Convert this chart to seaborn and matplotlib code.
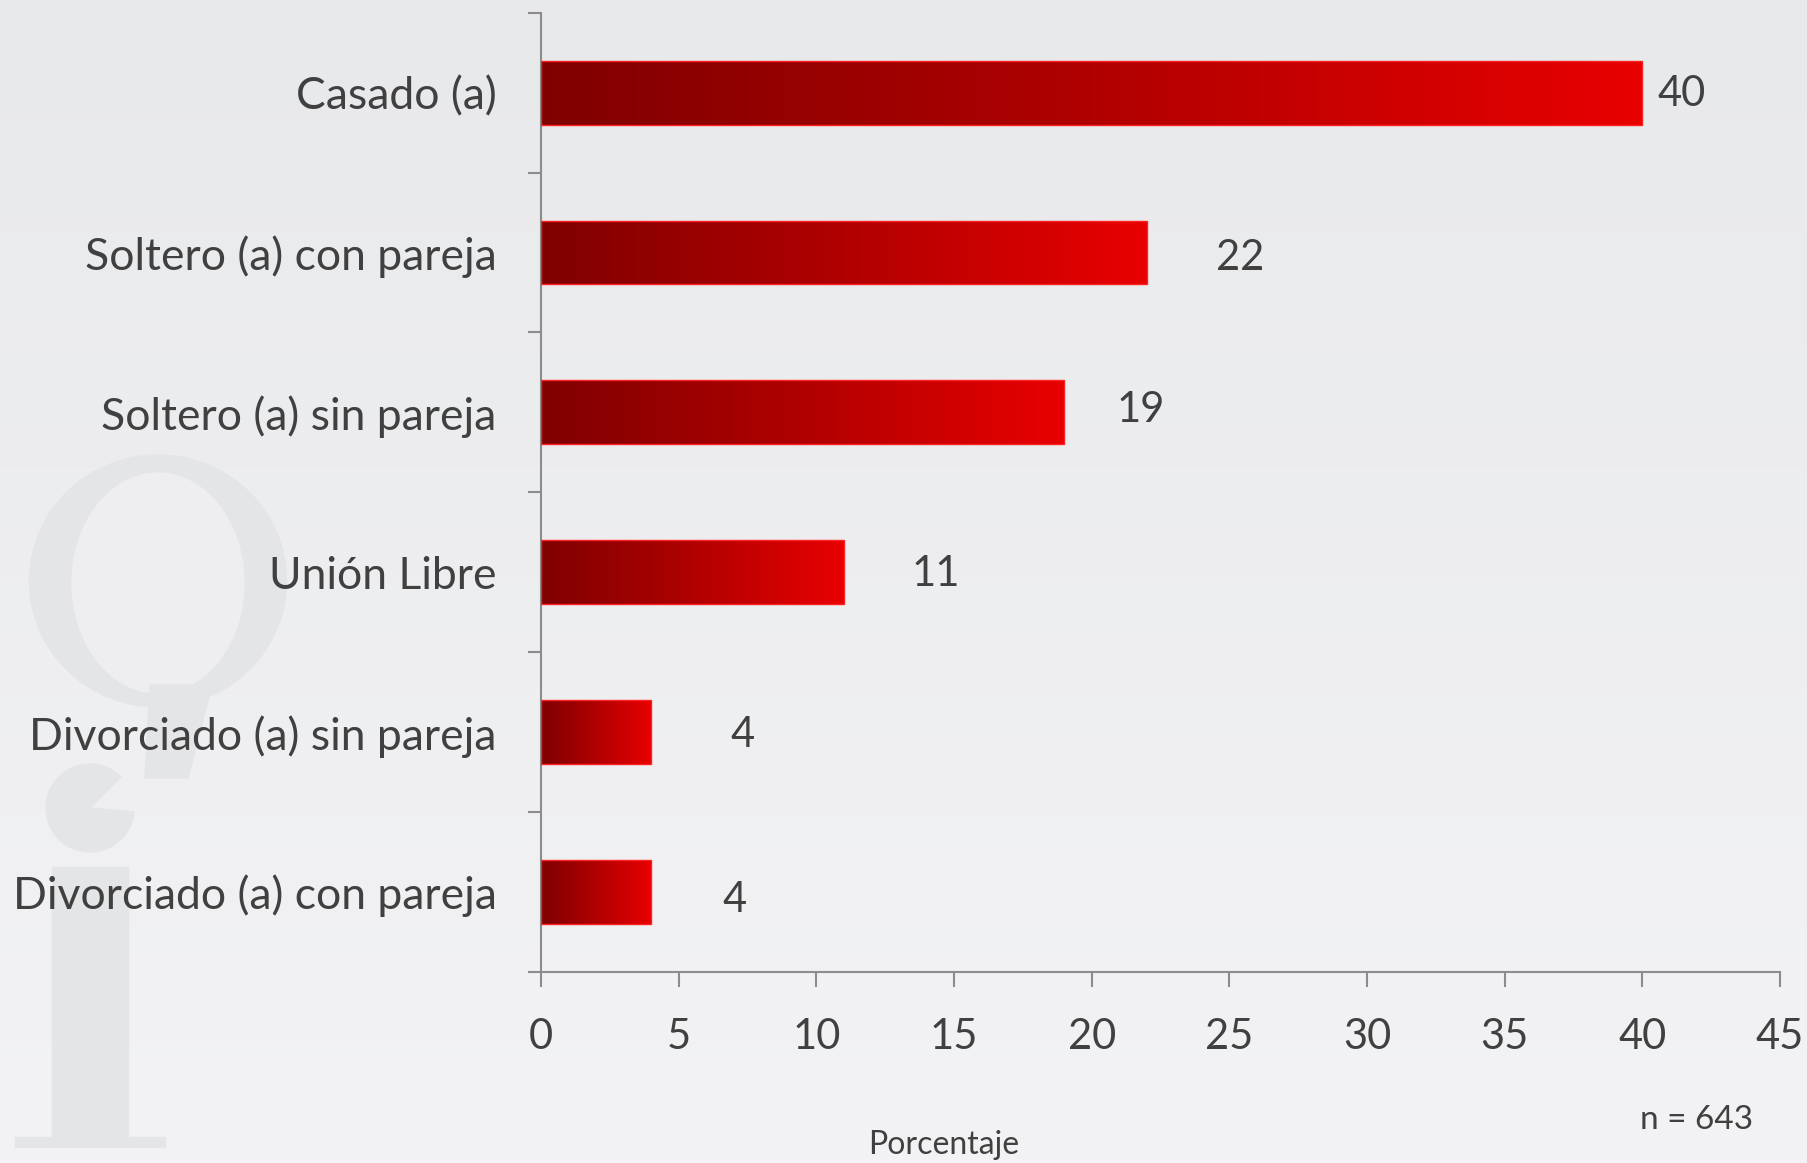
import numpy as np
import pandas as pd
import seaborn as sns
import matplotlib.pyplot as plt
from matplotlib.colors import LinearSegmentedColormap
from matplotlib.patches import Ellipse, Wedge, Rectangle, Polygon

categorias = ["Casado (a)", "Soltero (a) con pareja", "Soltero (a) sin pareja",
              "Unión Libre", "Divorciado (a) sin pareja", "Divorciado (a) con pareja"]
porcentajes = [40, 22, 19, 11, 4, 4]
xticks = [0, 5, 10, 15, 20, 25, 30, 35, 40, 45]

# posiciones de las etiquetas (puntos), colocadas a mano como en el original
label_dx = [28, 67, 55, 66, 66, 60]
label_dy = [-1, -4, 2, -1, -2, -6]

sns.set_theme(style="white")
plt.rcParams['font.family'] = ['Lato', 'DejaVu Sans']

fig = plt.figure(figsize=(18.08, 11.63), dpi=100)

# fondo degradado + marca de agua
bg = fig.add_axes([0, 0, 1, 1], zorder=-10)
top = np.array([232, 233, 235]) / 255
bot = np.array([243, 243, 245]) / 255
g = np.linspace(0, 1, 256).reshape(-1, 1, 1)
bg.imshow(top + (bot - top) * g, aspect='auto', extent=[0, 1808, 1163, 0])
wm = '#e4e5e7'
hueco = top + (bot - top) * (583 / 1163)
bg.add_patch(Ellipse((158, 581), 257, 252, color=wm))
bg.add_patch(Ellipse((158, 583), 172, 220, color=hueco))
bg.add_patch(Polygon([(150, 685), (212, 685), (188, 778), (145, 778)], color=wm))
bg.add_patch(Wedge((90, 808), 44, 5, 315, color=wm))
bg.add_patch(Rectangle((52, 867), 76, 272, color=wm))
bg.add_patch(Rectangle((15, 1137), 150, 10, color=wm))
bg.set_xlim(0, 1808)
bg.set_ylim(1163, 0)
bg.axis('off')

ax = fig.add_axes([0.2992, 0.1642, 0.6853, 0.8249])
ax.set_facecolor('none')

df = pd.DataFrame({"Estado": categorias, "Porcentaje": porcentajes})
sns.barplot(data=df, x="Porcentaje", y="Estado", orient='h', width=0.4,
            color='#c00000', ax=ax)

rojo = LinearSegmentedColormap.from_list('rojo', ['#800000', '#b00000', '#e80000'])
for p in ax.patches:
    x0, y0 = p.get_x(), p.get_y()
    w, h = p.get_width(), p.get_height()
    im = ax.imshow(np.linspace(0, 1, 256).reshape(1, -1), cmap=rojo, aspect='auto',
                   extent=[x0, x0 + w, y0 + h, y0], zorder=2)
    im.set_clip_path(p)
    p.set_facecolor('none')
    p.set_edgecolor('#ff2020')
    p.set_linewidth(1)
    p.set_zorder(3)

for i, v in enumerate(porcentajes):
    ax.annotate(str(v), xy=(v, i), xytext=(label_dx[i], label_dy[i]),
                textcoords='offset points', ha='center', va='center',
                fontsize=30, color='#404040')

ax.set_xlim(0, 45)
ax.set_ylim(5.5, -0.5)
ax.set_xticks(xticks)
ax.set_yticks(range(len(categorias)))
ax.set_yticks(np.arange(-0.5, len(categorias), 1), minor=True)
ax.set_xlabel('')
ax.set_ylabel('')

sns.despine(ax=ax)
for s in ['left', 'bottom']:
    ax.spines[s].set_color('#8c8c8c')
    ax.spines[s].set_linewidth(1.5)

ax.tick_params(axis='x', bottom=True, length=11, width=1.5, color='#8c8c8c',
               labelsize=30, labelcolor='#404040', pad=22)
ax.tick_params(axis='y', which='major', left=True, length=0, pad=32,
               labelsize=32, labelcolor='#404040')
ax.tick_params(axis='y', which='minor', left=True, length=9.5, width=1.5,
               color='#8c8c8c')

fig.text(944 / 1808, 1 - 1145 / 1163, "Porcentaje", ha='center', va='center',
         fontsize=23, color='#404040')
fig.text(1697 / 1808, 1 - 1120 / 1163, "n = 643", ha='center', va='center',
         fontsize=24, color='#404040')

plt.savefig("out.png", dpi=100)
